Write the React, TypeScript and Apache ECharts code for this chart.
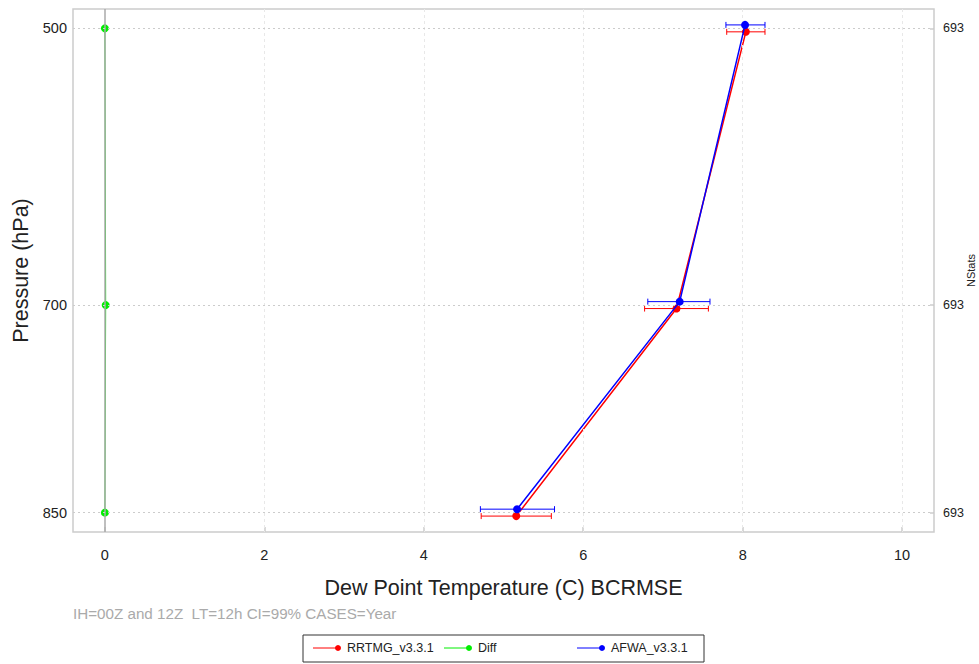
import React, { useEffect, useRef } from "react";
import * as echarts from "echarts";

const levels = [500, 700, 850];
const rrtmg = [8.04, 7.17, 5.16];
const rrtmgLo = [7.8, 6.77, 4.72];
const rrtmgHi = [8.28, 7.57, 5.6];
const afwa = [8.03, 7.21, 5.17];
const afwaLo = [7.79, 6.81, 4.71];
const afwaHi = [8.28, 7.59, 5.64];
const diff = [0.0, 0.01, 0.0];
const nstats = [693, 693, 693];
const xTicks = [0, 2, 4, 6, 8, 10];

const seriesNames = ["RRTMG_v3.3.1", "Diff", "AFWA_v3.3.1"];
const seriesColors = ["#ff0000", "#00ee00", "#0000ff"];
const legendX = [313, 444, 577];

const OFFSET = 2.5; // hPa display offset so the two models don't overlap
const FONT = "Liberation Sans, Arial, sans-serif";

function errorBars(color: string) {
  return (params: any, api: any) => {
    const y = api.value(0);
    const lo = api.value(1);
    const hi = api.value(2);
    const a = api.coord([lo, y]);
    const b = api.coord([hi, y]);
    const h = 3;
    const style = { stroke: color, lineWidth: 1 };
    return {
      type: "group",
      children: [
        { type: "line", shape: { x1: a[0], y1: a[1], x2: b[0], y2: b[1] }, style },
        { type: "line", shape: { x1: a[0], y1: a[1] - h, x2: a[0], y2: a[1] + h }, style },
        { type: "line", shape: { x1: b[0], y1: b[1] - h, x2: b[0], y2: b[1] + h }, style },
      ],
    };
  };
}

export default function App() {
  const ref = useRef<HTMLDivElement>(null);
  useEffect(() => {
    if (!ref.current) return;
    const chart = echarts.init(ref.current, null, { renderer: "svg" });
    const redPts = levels.map((p, i) => [rrtmg[i], p + OFFSET]);
    const bluePts = levels.map((p, i) => [afwa[i], p - OFFSET]);
    const greenPts = levels.map((p, i) => [diff[i], p]);
    const redErr = levels.map((p, i) => [p + OFFSET, rrtmgLo[i], rrtmgHi[i]]);
    const blueErr = levels.map((p, i) => [p - OFFSET, afwaLo[i], afwaHi[i]]);

    const gridLines: any[] = [];
    xTicks.forEach((v) => {
      gridLines.push({
        xAxis: v,
        lineStyle:
          v === 0
            ? { color: "#aaaaaa", width: 1.5, type: "solid" }
            : { color: "#e8e8e8", width: 1, type: [3, 3] },
      });
    });
    levels.forEach((p) => {
      gridLines.push({ yAxis: p, lineStyle: { color: "#cccccc", width: 1, type: [2, 3] } });
    });

    const legendY = 648;
    const legendItems = seriesNames.map((name, i) => ({
      type: "group",
      x: legendX[i],
      y: legendY,
      silent: true,
      children: [
        { type: "line", shape: { x1: 0, y1: 0, x2: 23, y2: 0 }, style: { stroke: seriesColors[i], lineWidth: 1 } },
        { type: "circle", shape: { cx: 25, cy: 0, r: 3 }, style: { fill: seriesColors[i] } },
        {
          type: "text",
          x: 34,
          y: 0,
          style: {
            text: name,
            fill: "#222",
            font: `12.5px ${FONT}`,
            verticalAlign: "middle",
            align: "left",
          },
        },
      ],
    }));

    chart.setOption({
      animation: false,
      backgroundColor: "#ffffff",
      textStyle: { fontFamily: FONT },
      title: {
        text: "IH=00Z and 12Z  LT=12h CI=99% CASES=Year",
        left: 73,
        top: 606,
        padding: 0,
        textStyle: { fontFamily: FONT, fontSize: 15.2, fontWeight: "normal", color: "#aaaaaa" },
      },
      graphic: [
        {
          type: "rect",
          shape: { x: 303, y: 635, width: 401, height: 27 },
          style: { fill: "none", stroke: "#333", lineWidth: 1 },
          silent: true,
        },
        ...legendItems,
      ],
      grid: {
        left: 73,
        top: 9,
        right: 45,
        bottom: 132,
        show: true,
        borderColor: "#cccccc",
        borderWidth: 1.5,
        containLabel: false,
        outerBoundsMode: "none",
      },
      xAxis: {
        type: "value",
        min: -0.4,
        max: 10.4,
        name: "Dew Point Temperature (C) BCRMSE",
        nameLocation: "middle",
        nameGap: 45,
        nameMoveOverlap: false,
        nameTextStyle: { fontFamily: FONT, fontSize: 21.5, color: "#222" },
        axisLine: { show: false },
        axisTick: { show: true, inside: true, length: 5, customValues: xTicks, lineStyle: { color: "#cccccc", width: 1.5 } },
        axisLabel: { customValues: xTicks, fontSize: 14.5, color: "#222", margin: 15, fontFamily: FONT },
        splitLine: { show: false },
      },
      yAxis: [
        {
          type: "value",
          min: 486,
          max: 864,
          inverse: true,
          position: "left",
          name: "Pressure (hPa)",
          nameLocation: "middle",
          nameRotate: 90,
          nameGap: 41,
          nameMoveOverlap: false,
          nameTextStyle: { fontFamily: FONT, fontSize: 21.5, color: "#222" },
          axisLine: { show: false },
          axisTick: { show: true, inside: true, length: 4, customValues: levels, lineStyle: { color: "#cccccc", width: 1.5 } },
          axisLabel: { customValues: levels, fontSize: 14.5, color: "#222", margin: 6, fontFamily: FONT },
          splitLine: { show: false },
        },
        {
          type: "value",
          min: 486,
          max: 864,
          inverse: true,
          position: "right",
          name: "NStats",
          nameLocation: "middle",
          nameRotate: 90,
          nameGap: 31,
          nameMoveOverlap: false,
          nameTextStyle: { fontFamily: FONT, fontSize: 11, color: "#222" },
          axisLine: { show: false },
          axisTick: { show: true, inside: true, length: 4, customValues: levels, lineStyle: { color: "#cccccc", width: 1.5 } },
          axisLabel: {
            customValues: levels,
            fontSize: 12.5,
            color: "#222",
            margin: 9,
            fontFamily: FONT,
            formatter: (v: number) => String(nstats[levels.indexOf(v)] ?? ""),
          },
          splitLine: { show: false },
        },
      ],
      series: [
        {
          name: "gridlines",
          type: "line",
          data: [],
          z: 1,
          silent: true,
          markLine: { silent: true, symbol: "none", label: { show: false }, data: gridLines, animation: false },
        },
        {
          name: seriesNames[1],
          type: "line",
          data: greenPts,
          lineStyle: { width: 1, color: seriesColors[1] },
          symbol: "circle",
          symbolSize: 8,
          itemStyle: { color: seriesColors[1] },
          z: 3,
        },
        {
          name: seriesNames[0],
          type: "line",
          data: redPts,
          lineStyle: { width: 1.5, color: seriesColors[0] },
          symbol: "circle",
          symbolSize: 8,
          itemStyle: { color: seriesColors[0] },
          z: 4,
        },
        {
          name: "rrtmgErr",
          type: "custom",
          renderItem: errorBars(seriesColors[0]),
          data: redErr,
          encode: { x: [1, 2], y: 0 },
          z: 4,
          silent: true,
        },
        {
          name: seriesNames[2],
          type: "line",
          data: bluePts,
          lineStyle: { width: 1.5, color: seriesColors[2] },
          symbol: "circle",
          symbolSize: 8,
          itemStyle: { color: seriesColors[2] },
          z: 5,
        },
        {
          name: "afwaErr",
          type: "custom",
          renderItem: errorBars(seriesColors[2]),
          data: blueErr,
          encode: { x: [1, 2], y: 0 },
          z: 5,
          silent: true,
        },
      ],
    });
    return () => chart.dispose();
  }, []);
  return <div ref={ref} style={{ width: 979, height: 664, position: "absolute", left: 0, top: 0 }} />;
}
